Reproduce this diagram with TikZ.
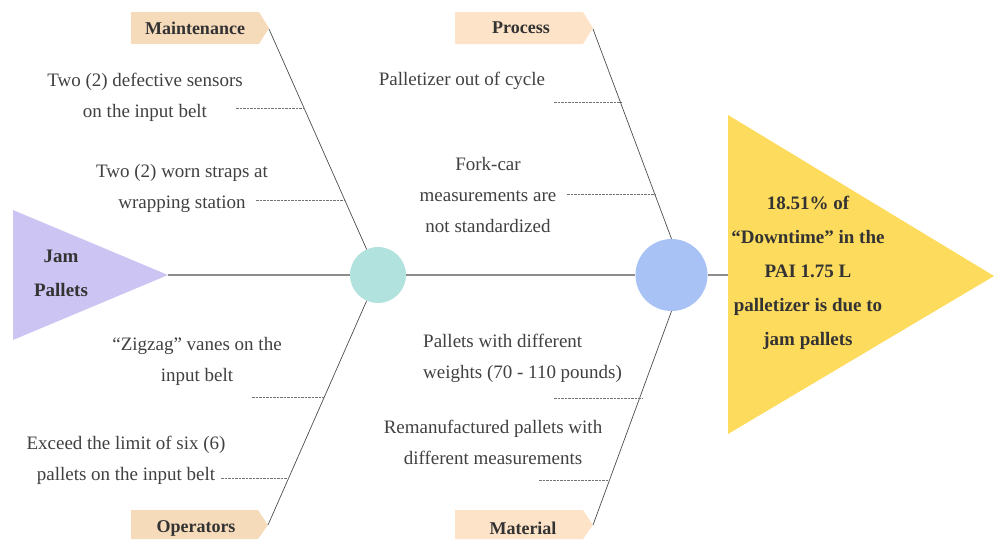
\documentclass[tikz,border=0pt]{standalone}
\usepackage{fontspec}
\setmainfont{Liberation Serif}
\begin{document}
\begin{tikzpicture}[x=1pt,y=-1pt,
  causetext/.style={font=\fontsize{19}{31}\selectfont, text=black!75, align=center, inner sep=0pt},
  cattext/.style={font=\fontsize{18}{22}\selectfont\bfseries, text=black!80, inner sep=0pt},
  headtext/.style={font=\fontsize{19}{34}\selectfont\bfseries, text=black!80, align=center, inner sep=0pt},
  bone/.style={draw=black!70, line width=0.7pt},
  spine/.style={draw=black!45, line width=1.3pt},
  tick/.style={draw=black!55, line width=0.5pt, dash pattern=on 2.5pt off 1pt},
  hub/.style={circle, inner sep=0pt}]
\definecolor{lav}{HTML}{CCC4F2}
\definecolor{gold}{HTML}{FDDB5C}
\definecolor{tealc}{HTML}{B1E2DD}
\definecolor{bluec}{HTML}{A8C2F5}
\definecolor{catA}{HTML}{F6DBBB}
\definecolor{catB}{HTML}{FDE3C7}
\useasboundingbox (0,0) rectangle (994,539);

% tail triangle
\fill[lav] (13,210) -- (168,275) -- (13,340) -- cycle;
\coordinate (tail) at (168,275);
\node[headtext] (jam) at (61,273) {Jam\\Pallets};

% head triangle
\fill[gold] (728,115) -- (994,276) -- (728,434) -- cycle;
\coordinate (headL) at (728,275);
\node[headtext] (head) at (808,273) {18.51\% of\\“Downtime” in the\\PAI 1.75 L\\palletizer is due to\\jam pallets};

% hubs
\node[hub, fill=tealc, minimum size=56pt] (c1) at (378,275) {};
\node[hub, fill=bluec, minimum size=72pt] (c2) at (671.5,275) {};

% spine
\draw[spine] (tail) -- (c1);
\draw[spine] (c1) -- (c2);
\draw[spine] (c2) -- (headL);

% category boxes
\fill[catA] (131,12) -- (259,12) -- (269,28) -- (259,44) -- (131,44) -- cycle;
\node[cattext] (maint) at (195,28) {Maintenance};
\coordinate (mtip) at (269,29);
\fill[catB] (455,12) -- (583,12) -- (593,28) -- (583,44) -- (455,44) -- cycle;
\node[cattext] (proc) at (521,28) {Process};
\coordinate (ptip) at (593,29);
\fill[catA] (131,510) -- (258,510) -- (268,525) -- (258,539) -- (131,539) -- cycle;
\node[cattext] (oper) at (196,528) {Operators};
\coordinate (otip) at (268,525);
\fill[catB] (455,510) -- (583,510) -- (593,525) -- (583,539) -- (455,539) -- cycle;
\node[cattext] (mat) at (523,528) {Material};
\coordinate (mattip) at (593,525);

% bones
\draw[bone] (mtip) -- (c1);
\draw[bone] (otip) -- (c1);
\draw[bone] (ptip) -- (c2.north);
\draw[bone] (mattip) -- (c2.south);

% points on bones
\coordinate (m1) at (304,108);
\coordinate (m2) at (345,200);
\coordinate (o1) at (324,397);
\coordinate (o2) at (289,478);
\coordinate (p1) at (621,102);
\coordinate (p2) at (656,194);
\coordinate (q1) at (642,398);
\coordinate (q2) at (610,480);

% cause texts
\node[causetext] (t1) at (145,97) {Two (2) defective sensors\\on the input belt};
\node[causetext] (t2) at (182,188) {Two (2) worn straps at\\wrapping station};
\node[causetext] (t3) at (462,81) {Palletizer out of cycle};
\node[causetext] (t4) at (488,195) {Fork-car\\measurements are\\not standardized};
\node[causetext] (t5) at (197,361) {“Zigzag” vanes on the\\input belt};
\node[causetext] (t6) at (126,460) {Exceed the limit of six (6)\\pallets on the input belt};
\node[causetext, align=left, anchor=west] (t7) at (423,358) {Pallets with different\\weights (70 - 110 pounds)};
\node[causetext] (t8) at (493,442) {Remanufactured pallets with\\different measurements};

% ticks
\coordinate (k1) at (236,108);
\coordinate (k2) at (256,200);
\coordinate (k3) at (554,102);
\coordinate (k4) at (567,194);
\coordinate (k5) at (252,397);
\coordinate (k6) at (221,478);
\coordinate (k7) at (554,398);
\coordinate (k8) at (539,480);
\draw[tick] (k1) -- (m1);
\draw[tick] (k2) -- (m2);
\draw[tick] (k3) -- (p1);
\draw[tick] (k4) -- (p2);
\draw[tick] (k5) -- (o1);
\draw[tick] (k6) -- (o2);
\draw[tick] (k7) -- (q1);
\draw[tick] (k8) -- (q2);
\end{tikzpicture}
\end{document}
